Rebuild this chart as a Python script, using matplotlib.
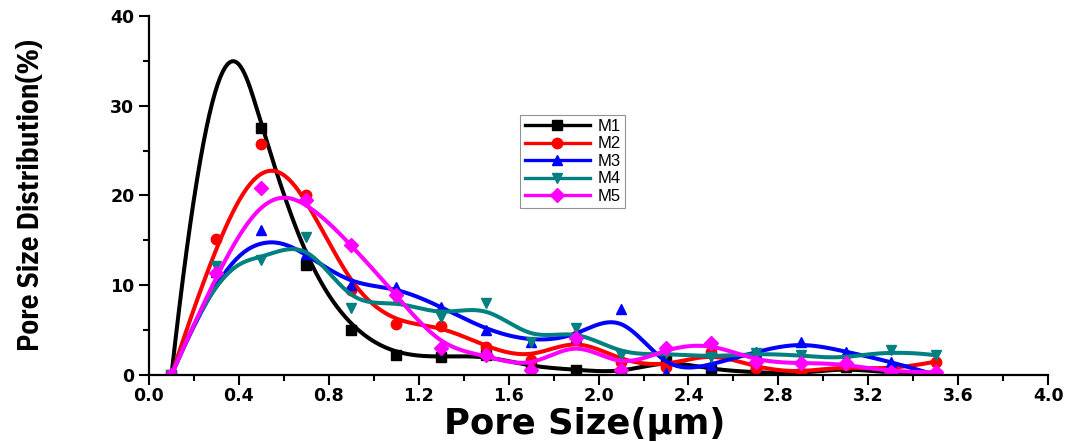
import numpy as np
import matplotlib.pyplot as plt
from matplotlib.ticker import MultipleLocator

# pore size (um) and distribution (%)
pore_size = [0.1, 0.3, 0.5, 0.7, 0.9, 1.1, 1.3, 1.5, 1.7, 1.9,
             2.1, 2.3, 2.5, 2.7, 2.9, 3.1, 3.3, 3.5]

m1 = [0, 45.0, 27.5, 12.3, 5.0, 2.2, 2.0, 2.2, 0.9, 0.6,
      0.2, 1.7, 0.6, 0.3, 0.1, 0.9, 0.2, 0.0]
m2 = [0, 15.2, 25.7, 20.0, 9.5, 5.7, 5.5, 3.1, 1.7, 4.3,
      1.5, 0.9, 2.6, 0.8, 0.2, 1.1, 0.5, 1.5]
m3 = [0, 11.5, 16.1, 13.5, 10.0, 9.8, 7.6, 5.0, 3.7, 4.2,
      7.4, 0.2, 1.1, 2.6, 3.7, 2.6, 1.5, 0.0]
m4 = [0, 12.2, 12.8, 15.4, 7.5, 8.4, 6.5, 8.0, 3.7, 5.2,
      2.2, 2.4, 2.0, 2.4, 2.2, 1.7, 2.8, 2.2]
m5 = [0, 11.4, 20.8, 19.5, 14.5, 8.9, 3.0, 2.2, 0.6, 4.1,
      0.6, 3.0, 3.6, 1.5, 1.3, 1.3, 0.3, 0.3]

names = ['M1', 'M2', 'M3', 'M4', 'M5']
colors = ['black', '#ff0000', '#0000ff', '#008080', '#ff00ff']
markers = ['s', 'o', '^', 'v', 'D']


def bspline(xs, ys, k=3, n=500):
    # clamped cubic B-spline with the data as control points (Origin style)
    P = np.column_stack([xs, ys])
    m = len(P)
    knots = np.concatenate([np.zeros(k), np.arange(m - k + 1), np.full(k, m - k)]).astype(float)
    t = np.linspace(0, m - k, n)
    N = np.zeros((n, len(knots) - 1))
    for i in range(len(knots) - 1):
        N[:, i] = (knots[i] <= t) & (t < knots[i + 1])
    N[t == knots[-1], m - 1] = 1
    for d in range(1, k + 1):
        Nn = np.zeros((n, len(knots) - 1 - d))
        for i in range(len(knots) - 1 - d):
            a = knots[i + d] - knots[i]
            b = knots[i + d + 1] - knots[i + 1]
            left = (t - knots[i]) / a * N[:, i] if a > 0 else 0
            right = (knots[i + d + 1] - t) / b * N[:, i + 1] if b > 0 else 0
            Nn[:, i] = left + right
        N = Nn
    c = N @ P
    return c[:, 0], c[:, 1]


plt.rcParams['font.family'] = ['DejaVu Sans']
plt.rcParams['font.weight'] = 'bold'

fig = plt.figure(figsize=(10.75, 4.42), dpi=100)
ax = fig.add_axes([0.1386, 0.1516, 0.8364, 0.8122])

handles = []
for ys, name, col, mk in zip([m1, m2, m3, m4, m5], names, colors, markers):
    cx, cy = bspline(pore_size, ys)
    ax.plot(cx, cy, color=col, lw=2.9, solid_capstyle='round')
    ax.plot(pore_size, ys, ls='none', marker=mk, color=col, ms=7.5)
    h, = ax.plot([], [], color=col, lw=2.4, marker=mk, ms=7.5, label=name)
    handles.append(h)

ax.set_xlim(0, 4.0)
ax.set_ylim(0, 40)
ax.xaxis.set_major_locator(MultipleLocator(0.4))
ax.xaxis.set_minor_locator(MultipleLocator(0.2))
ax.yaxis.set_major_locator(MultipleLocator(10))
ax.yaxis.set_minor_locator(MultipleLocator(5))
ax.xaxis.set_major_formatter(lambda v, p: f'{v:.1f}')
ax.yaxis.set_major_formatter(lambda v, p: f'{v:.0f}')

for s in ['top', 'right']:
    ax.spines[s].set_visible(False)
for s in ['left', 'bottom']:
    ax.spines[s].set_linewidth(1.6)

ax.tick_params(which='major', direction='out', length=7, width=1.5, labelsize=12.5)
ax.tick_params(which='minor', direction='out', length=4, width=1.5)
ax.tick_params(axis='x', pad=2)

ax.set_xlabel('Pore Size(μm)', fontsize=25.5, fontweight='bold')
ax.xaxis.set_label_coords(0.485, -0.09)
ax.set_ylabel('Pore Size Distribution(%)', fontsize=21, fontweight='bold',
              family=['IBM Plex Sans Condensed', 'Liberation Sans'])
ax.yaxis.set_label_coords(-0.116, 0.5)

leg = ax.legend(handles=handles, loc='upper left', bbox_to_anchor=(0.413, 0.725),
                numpoints=1, handlelength=3.9, handletextpad=0.5,
                labelspacing=0.15, borderpad=0.25, borderaxespad=0, frameon=True,
                fancybox=False, prop={'family': 'Liberation Sans', 'size': 12,
                                      'weight': 'normal'})
leg.get_frame().set_edgecolor('#777777')
leg.get_frame().set_linewidth(0.8)

fig.savefig('out.png', dpi=100)
